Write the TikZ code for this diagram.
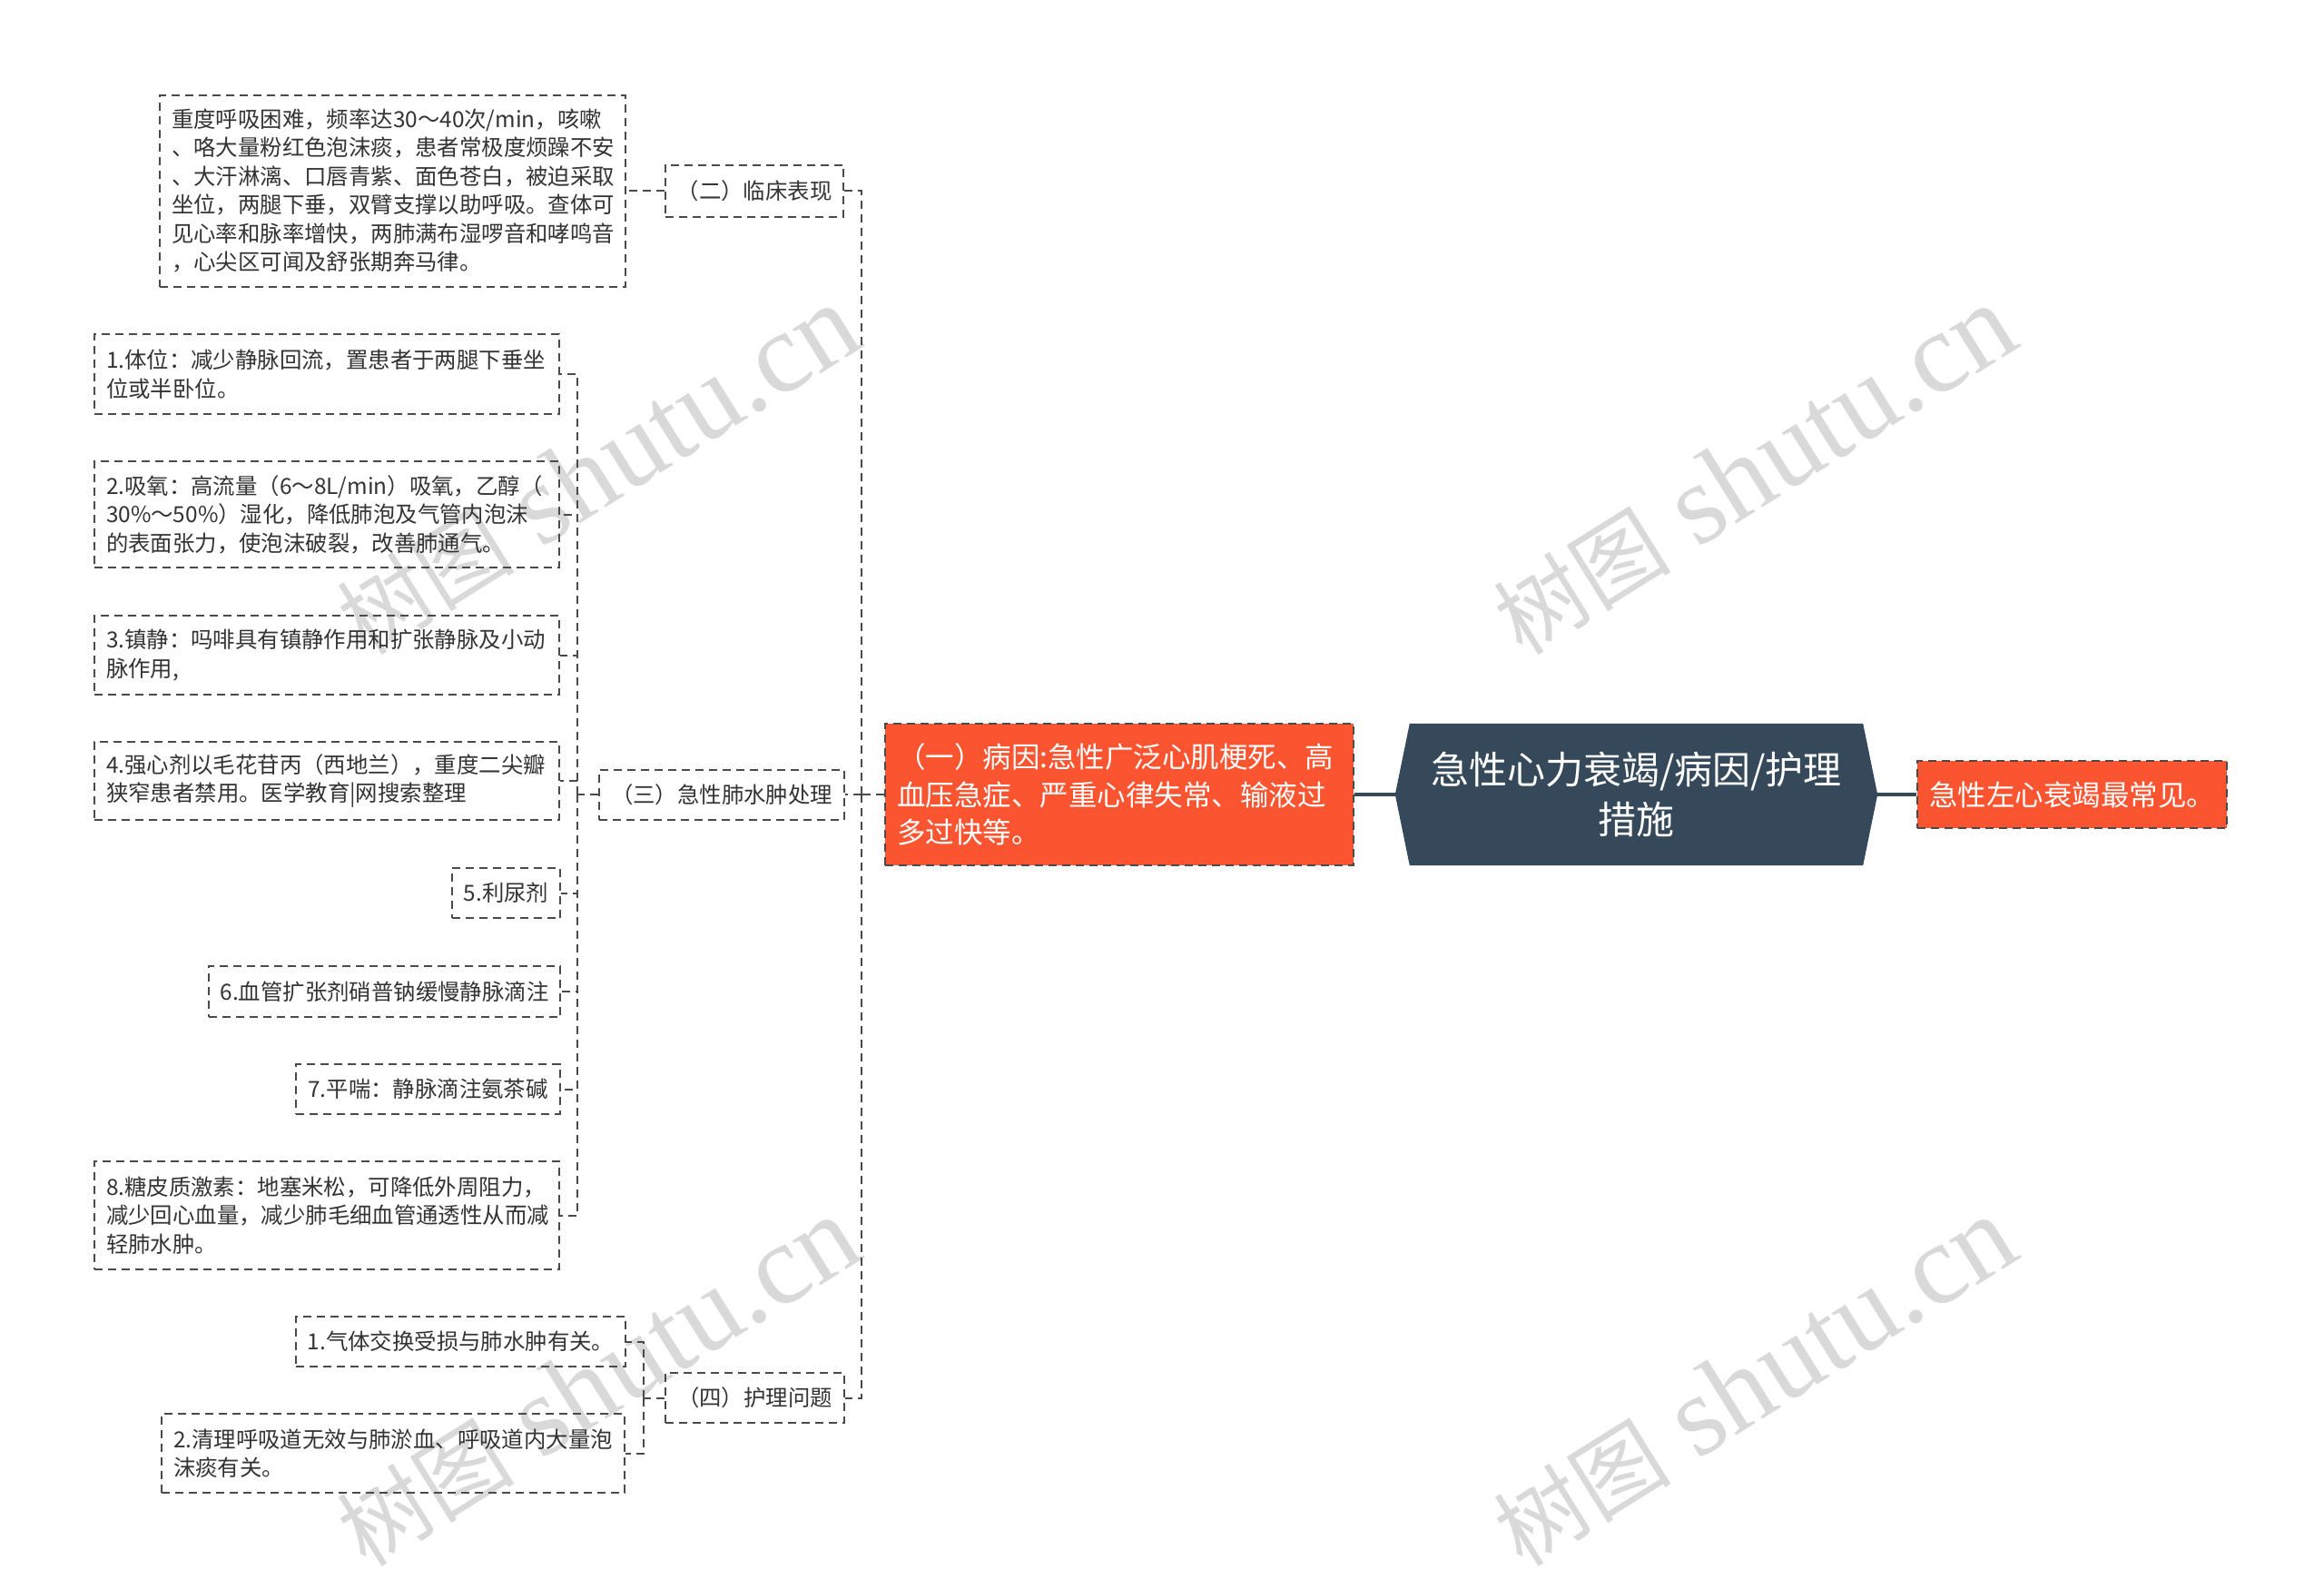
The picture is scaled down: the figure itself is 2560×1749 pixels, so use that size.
\documentclass[tikz,border=0pt]{standalone}
\usepackage{fontspec}
\setmainfont{Noto Sans CJK SC}
\newfontfamily\wmlatin{Liberation Serif}
\usetikzlibrary{backgrounds}
\definecolor{linec}{HTML}{4A4A4A}
\definecolor{textc}{HTML}{333333}
\definecolor{orangec}{HTML}{FA5530}
\definecolor{mainc}{HTML}{35495B}
\definecolor{wmc}{HTML}{D9D9D9}
\tikzset{
  conn/.style={draw=linec, line width=2pt, dash pattern=on 9pt off 6pt},
  solidconn/.style={draw=mainc, line width=4pt},
  leafbox/.style={draw=linec, line width=2pt, dash pattern=on 9pt off 6pt, text=textc,
    font=\fontsize{24.4}{31.5}\selectfont, inner xsep=13pt, inner ysep=0pt, align=left},
  orangebox/.style={fill=orangec, draw=linec, line width=2pt, dash pattern=on 9pt off 6pt,
    text=white, inner xsep=13pt, inner ysep=0pt, align=left},
  wmark/.style={text=wmc, rotate=32, inner sep=0pt},
}
\begin{document}
\begin{tikzpicture}[x=1pt,y=-1pt]
\begin{scope}[on background layer]
\fill[white] (0,0) rectangle (2560,1749);
\end{scope}
\useasboundingbox (0,0) rectangle (2560,1749);

% watermarks
\node[wmark] (wm1) at (658,518) {\fontsize{98}{98}\selectfont 树图\hspace{30pt}\wmlatin\fontsize{126}{126}\selectfont shutu.cn};
\node[wmark] (wm2) at (1932,518) {\fontsize{98}{98}\selectfont 树图\hspace{30pt}\wmlatin\fontsize{126}{126}\selectfont shutu.cn};
\node[wmark] (wm3) at (658,1522) {\fontsize{98}{98}\selectfont 树图\hspace{30pt}\wmlatin\fontsize{126}{126}\selectfont shutu.cn};
\node[wmark] (wm4) at (1932,1522) {\fontsize{98}{98}\selectfont 树图\hspace{30pt}\wmlatin\fontsize{126}{126}\selectfont shutu.cn};

% central
\node[text=white, font=\fontsize{42}{55}\selectfont, align=center, minimum width=531pt, minimum height=156pt, inner sep=0pt] (main) at (1802.5,875) {急性心力衰竭/病因/护理\\措施};
\begin{scope}[on background layer]
\fill[mainc] ([xshift=16pt]main.north west) -- ([xshift=-16pt]main.north east) -- (main.east)
  -- ([xshift=-16pt]main.south east) -- ([xshift=16pt]main.south west) -- (main.west) -- cycle;
\end{scope}

\node[orangebox, font=\fontsize{31.5}{41.5}\selectfont, text width=490pt, minimum height=156pt] (Y) at (1233,875)
 {（一）病因:急性广泛心肌梗死、高\\血压急症、严重心律失常、输液过\\多过快等。};
\node[orangebox, font=\fontsize{31.5}{36}\selectfont, minimum width=341pt, minimum height=74pt, align=center] (R) at (2282.5,875) {急性左心衰竭最常见。};

% level 2
\node[leafbox, minimum width=196pt, minimum height=57pt, align=center] (n2) at (831,210) {（二）临床表现};
\node[leafbox, minimum width=268pt, minimum height=55pt, align=center] (n3) at (795,875) {（三）急性肺水肿处理};
\node[leafbox, minimum width=195pt, minimum height=55pt, align=center] (n4) at (831.5,1539.5) {（四）护理问题};

% leaves of (二)
\node[leafbox, text width=487pt, minimum height=211pt] (tA) at (432.5,210) {重度呼吸困难，频率达30～40次/min，咳嗽\\、咯大量粉红色泡沫痰，患者常极度烦躁不安\\、大汗淋漓、口唇青紫、面色苍白，被迫采取\\坐位，两腿下垂，双臂支撑以助呼吸。查体可\\见心率和脉率增快，两肺满布湿啰音和哮鸣音\\，心尖区可闻及舒张期奔马律。};

% leaves of (三)
\node[leafbox, text width=486pt, minimum height=88pt] (c1) at (360,412) {1.体位：减少静脉回流，置患者于两腿下垂坐\\位或半卧位。};
\node[leafbox, text width=486pt, minimum height=117pt] (c2) at (360,566.5) {2.吸氧：高流量（6～8L/min）吸氧，乙醇（\\30\%～50\%）湿化，降低肺泡及气管内泡沫\\的表面张力，使泡沫破裂，改善肺通气。};
\node[leafbox, text width=486pt, minimum height=87pt] (c3) at (360,721.5) {3.镇静：吗啡具有镇静作用和扩张静脉及小动\\脉作用,};
\node[leafbox, text width=486pt, minimum height=86pt] (c4) at (360,860) {4.强心剂以毛花苷丙（西地兰），重度二尖瓣\\狭窄患者禁用。医学教育|网搜索整理};
\node[leafbox, minimum width=117pt, minimum height=55pt, align=center] (c5) at (557.5,983.5) {5.利尿剂};
\node[leafbox, minimum width=385pt, minimum height=56pt, align=center] (c6) at (423.5,1092) {6.血管扩张剂硝普钠缓慢静脉滴注};
\node[leafbox, minimum width=289pt, minimum height=55pt, align=center] (c7) at (471.5,1199.5) {7.平喘：静脉滴注氨茶碱};
\node[leafbox, text width=486pt, minimum height=119pt] (c8) at (360,1338.5) {8.糖皮质激素：地塞米松，可降低外周阻力，\\减少回心血量，减少肺毛细血管通透性从而减\\轻肺水肿。};

% leaves of (四)
\node[leafbox, minimum width=361pt, minimum height=55pt, align=center] (p1) at (507.5,1477.5) {1.气体交换受损与肺水肿有关。};
\node[leafbox, text width=484pt, minimum height=87pt] (p2) at (433,1600.5) {2.清理呼吸道无效与肺淤血、呼吸道内大量泡\\沫痰有关。};

% connectors
\draw[solidconn] (main.west) -- (Y.east);
\draw[solidconn] (main.east) -- (R.west);

\coordinate (t1) at ([xshift=-25pt]Y.west);
\draw[conn] (Y.west) -- (t1);
\draw[conn] (t1) |- (n2.east);
\draw[conn] (t1) |- (n3.east);
\draw[conn] (t1) |- (n4.east);

\draw[conn] (n2.west) -- (tA.east);

\coordinate (t3) at ([xshift=-23pt]n3.west);
\draw[conn] (n3.west) -- (t3);
\foreach \c in {c1,c2,c3,c4,c5,c6,c7,c8} { \draw[conn] (t3) |- (\c.east); }

\coordinate (t4) at ([xshift=-23pt]n4.west);
\draw[conn] (n4.west) -- (t4);
\draw[conn] (t4) |- (p1.east);
\draw[conn] (t4) |- (p2.east);
\end{tikzpicture}
\end{document}
